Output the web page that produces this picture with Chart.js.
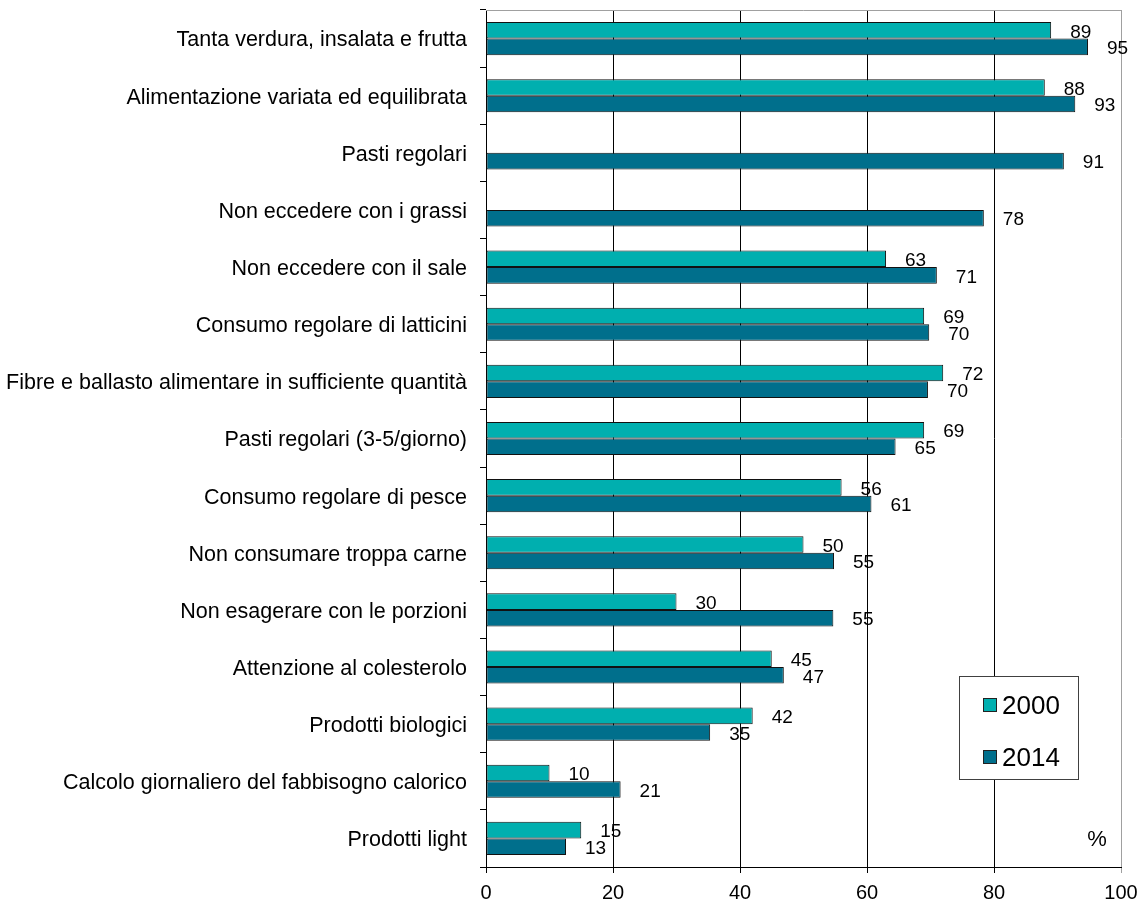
<!DOCTYPE html>
<html>
<head>
<meta charset="utf-8">
<script src="https://cdn.jsdelivr.net/npm/chart.js@4/dist/chart.umd.min.js"></script>
<style>
  html,body{margin:0;padding:0;background:#fff;}
  #wrap{width:1148px;height:905px;position:relative;}
</style>
</head>
<body>
<div id="wrap"><canvas id="chart"></canvas></div>
<script>
/* ===================== DATA ===================== */
const categories = [
  'Tanta verdura, insalata e frutta',
  'Alimentazione variata ed equilibrata',
  'Pasti regolari',
  'Non eccedere con i grassi',
  'Non eccedere con il sale',
  'Consumo regolare di latticini',
  'Fibre e ballasto alimentare in sufficiente quantità',
  'Pasti regolari (3-5/giorno)',
  'Consumo regolare di pesce',
  'Non consumare troppa carne',
  'Non esagerare con le porzioni',
  'Attenzione al colesterolo',
  'Prodotti biologici',
  'Calcolo giornaliero del fabbisogno calorico',
  'Prodotti light'
];
const values2000 = [89, 88, null, null, 63, 69, 72, 69, 56, 50, 30, 45, 42, 10, 15];
const values2014 = [94.8, 92.8, 91, 78.4, 71, 69.8, 69.6, 64.5, 60.7, 54.8, 54.7, 46.9, 35.3, 21.2, 12.6];
const seriesNames = ['2000', '2014'];
const xTicks = [0, 20, 40, 60, 80, 100];

/* ===================== STYLE ===================== */
const FONT = '"Liberation Sans", Arial, sans-serif';
const C2000 = '#00AFAF';
const C2014 = '#006F8C';

/* value labels next to each bar */
const valueLabels = {
  id:'valueLabels',
  afterDatasetsDraw(chart){
    const ctx = chart.ctx;
    ctx.save();
    ctx.font = '19px ' + FONT;
    ctx.fillStyle = '#000';
    ctx.textAlign = 'left';
    ctx.textBaseline = 'middle';
    chart.data.datasets.forEach((ds, i)=>{
      const meta = chart.getDatasetMeta(i);
      meta.data.forEach((bar, j)=>{
        const v = ds.data[j];
        if(v==null) return;
        ctx.fillText(String(Math.round(v)), bar.x + 19, bar.y + 2);
      });
    });
    ctx.restore();
  }
};

/* plot frame (top in grey), legend box and % mark */
const extras = {
  id:'extras',
  beforeDatasetsDraw(chart){
    const {ctx, chartArea:a} = chart;
    ctx.save();
    ctx.strokeStyle = '#a0a0a0';
    ctx.lineWidth = 1;
    ctx.beginPath();
    ctx.moveTo(a.left, Math.round(a.top) + 0.5);
    ctx.lineTo(a.right + 0.5, Math.round(a.top) + 0.5);
    ctx.stroke();
    ctx.restore();
  },
  afterDraw(chart){
    const {ctx, chartArea:a} = chart;
    ctx.save();
    // legend
    const bx = Math.round(a.right - 162), by = Math.round(a.bottom - 191), bw = 119, bh = 103;
    ctx.fillStyle = '#fff';
    ctx.fillRect(bx, by, bw, bh);
    ctx.strokeStyle = '#404040';
    ctx.lineWidth = 1;
    ctx.strokeRect(bx + 0.5, by + 0.5, bw, bh);
    ctx.font = '26px ' + FONT;
    ctx.textAlign = 'left';
    ctx.textBaseline = 'middle';
    chart.data.datasets.forEach((ds, i)=>{
      const cy = by + 30 + i * 52;
      ctx.fillStyle = ds.backgroundColor;
      ctx.fillRect(bx + 24.5, cy - 7.5, 13, 13);
      ctx.strokeStyle = '#222';
      ctx.strokeRect(bx + 24.5, cy - 7.5, 13, 13);
      ctx.fillStyle = '#000';
      ctx.fillText(ds.label, bx + 43, cy + 1);
    });
    // % mark
    ctx.font = '22px ' + FONT;
    ctx.textAlign = 'center';
    ctx.fillText('%', a.right - 24, a.bottom - 27);
    ctx.restore();
  }
};

new Chart(document.getElementById('chart'), {
  type:'bar',
  data:{
    labels:categories,
    datasets:[
      { label:seriesNames[0], data:values2000, backgroundColor:C2000, borderColor:'#111', borderWidth:1, borderSkipped:false },
      { label:seriesNames[1], data:values2014, backgroundColor:C2014, borderColor:'#111', borderWidth:1, borderSkipped:false }
    ]
  },
  options:{
    indexAxis:'y',
    responsive:true,
    maintainAspectRatio:false,
    animation:false,
    devicePixelRatio:1,
    categoryPercentage:0.58,
    barPercentage:1,
    layout:{ padding:{ top:10, right:27, left:0, bottom:0 } },
    plugins:{ legend:{display:false}, tooltip:{enabled:false} },
    scales:{
      x:{
        min:0, max:100,
        afterBuildTicks(s){ s.ticks = xTicks.map(v=>({value:v})); },
        afterFit(s){ s.height = 38; s.paddingLeft = 0; s.paddingRight = 0; },
        grid:{
          color:c=> (c.tick && c.tick.value===100) ? '#a0a0a0' : '#000',
          lineWidth:1, tickLength:6, drawTicks:true
        },
        border:{ color:'#000', width:1 },
        ticks:{ color:'#000', font:{ family:FONT, size:20 }, padding:8, maxRotation:0 }
      },
      y:{
        offset:true,
        afterFit(s){ s.width = 486; s.paddingTop = 0; s.paddingBottom = 0; },
        grid:{ offset:true, drawOnChartArea:false, drawTicks:true, tickLength:6, color:'#000' },
        border:{ color:'#000', width:1 },
        ticks:{ color:'#000', font:{ family:FONT, size:21.5 }, padding:13, labelOffset:2, autoSkip:false }
      }
    }
  },
  plugins:[valueLabels, extras]
});
</script>
</body>
</html>
